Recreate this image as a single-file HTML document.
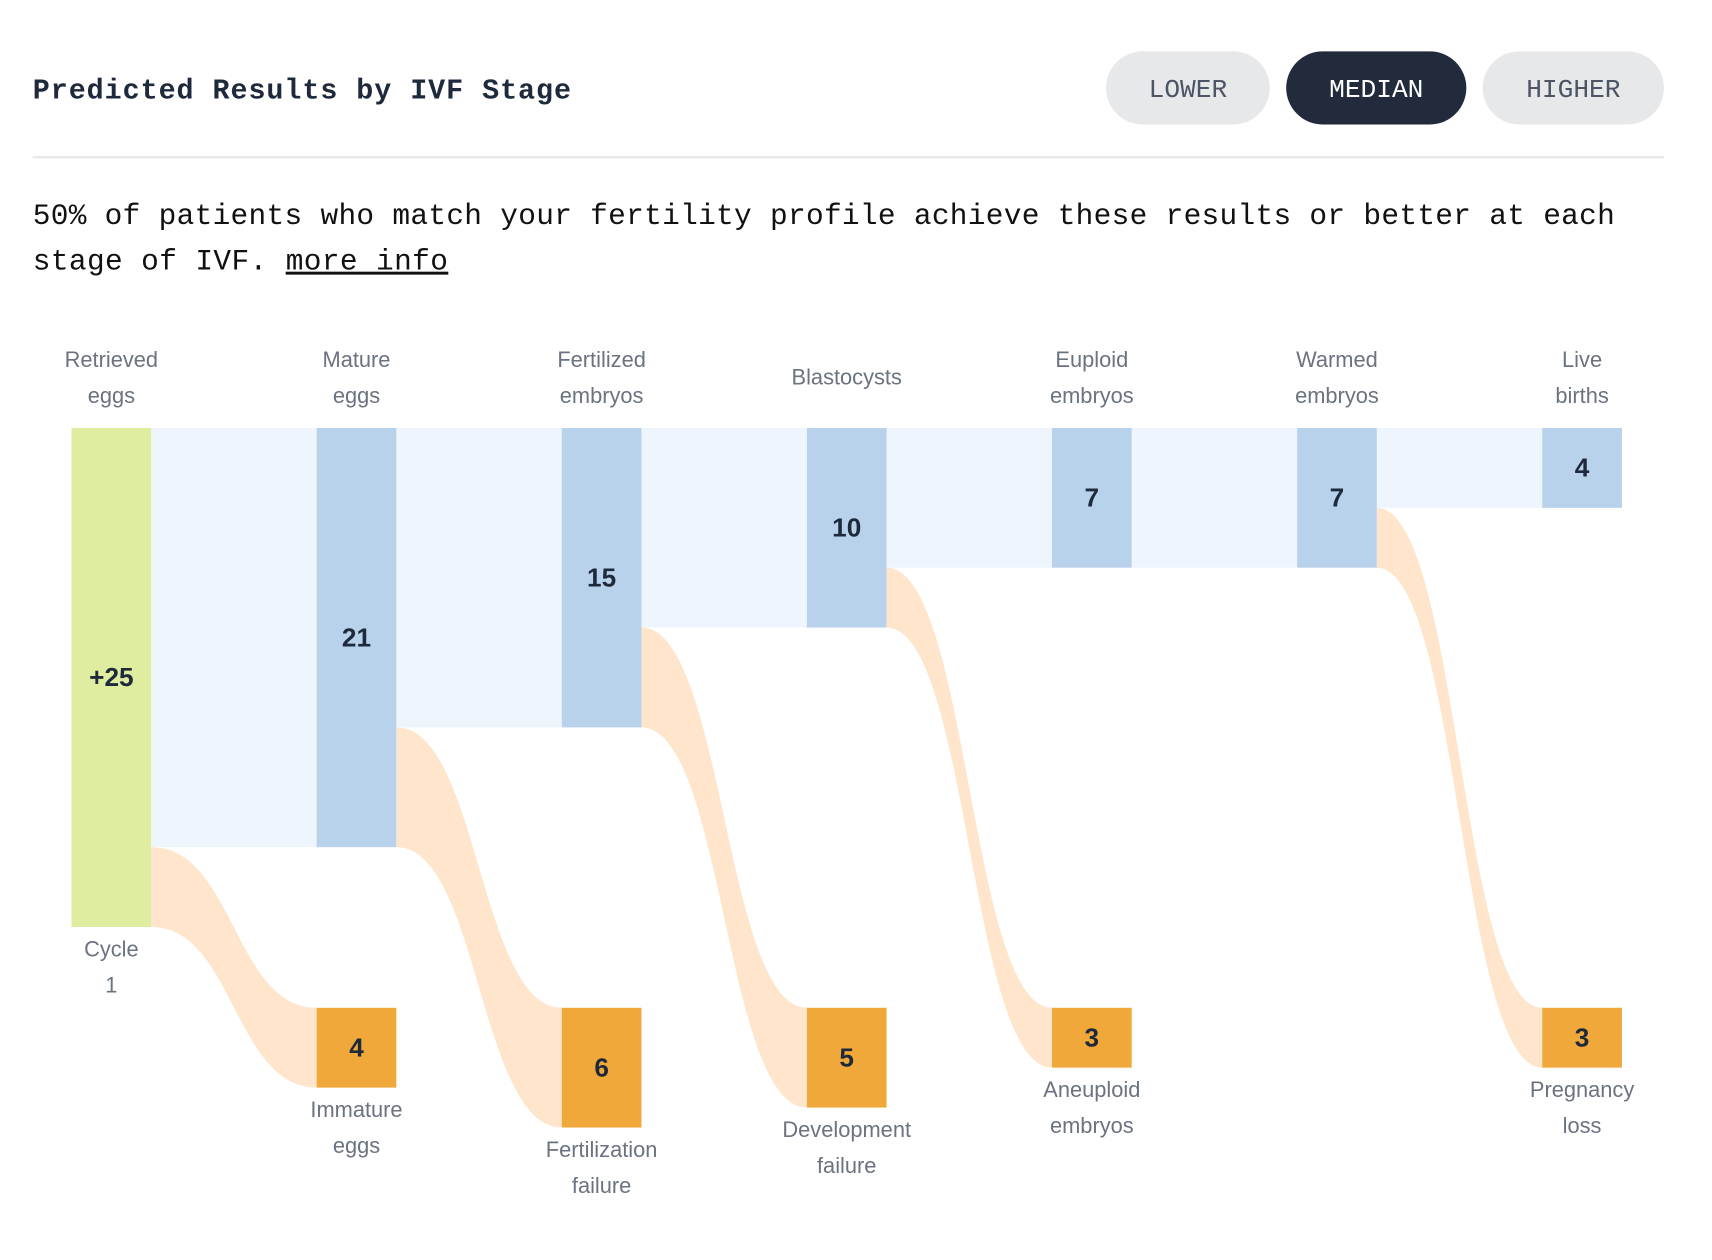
<!DOCTYPE html>
<html><head><meta charset="utf-8">
<style>
html,body{margin:0;padding:0;background:#fff;}
svg{display:block;}
.mono{font-family:"Liberation Mono",monospace;}
</style></head>
<body>
<svg id="chart" width="1712" height="1260" viewBox="0 0 1568 1154" xmlns="http://www.w3.org/2000/svg">
  <text x="30" y="90" class="mono" font-size="26" font-weight="bold" fill="#1e293b" textLength="493" lengthAdjust="spacing">Predicted Results by IVF Stage</text>
  <g>
    <rect x="1013" y="47" width="150" height="67" rx="33.5" fill="#e7e8ea"/>
    <text x="1088" y="89" text-anchor="middle" class="mono" font-size="24" fill="#4b5563">LOWER</text>
  </g>
  <g>
    <rect x="1178" y="47" width="165" height="67" rx="33.5" fill="#212b3b"/>
    <text x="1260.5" y="89" text-anchor="middle" class="mono" font-size="24" fill="#fff">MEDIAN</text>
  </g>
  <g>
    <rect x="1358" y="47" width="166" height="67" rx="33.5" fill="#e7e8ea"/>
    <text x="1441" y="89" text-anchor="middle" class="mono" font-size="24" fill="#4b5563">HIGHER</text>
  </g>
  <rect x="30" y="143" width="1494" height="2" fill="#e5e7eb"/>
  <text x="30" y="205" class="mono" font-size="27" fill="#111" textLength="1449" lengthAdjust="spacing">50% of patients who match your fertility profile achieve these results or better at each</text>
  <text x="30" y="247" class="mono" font-size="27" fill="#111" letter-spacing="0.35">stage of IVF. <tspan text-decoration="underline">more info</tspan></text>
  <g id="plot"></g>
</svg>
<script>
const stageLabels = [["Retrieved","eggs"],["Mature","eggs"],["Fertilized","embryos"],["Blastocysts"],["Euploid","embryos"],["Warmed","embryos"],["Live","births"]];
const stageValues = [25,21,15,10,7,7,4];
const valueText = ["+25","21","15","10","7","7","4"];
const lossValues = [4,6,5,3,0,3];
const lossLabels = [["Immature","eggs"],["Fertilization","failure"],["Development","failure"],["Aneuploid","embryos"],[],["Pregnancy","loss"]];

const NS="http://www.w3.org/2000/svg";
const plot=document.getElementById('plot');
const x0=102, dx=224.5, bw=73, topY=392, unit=18.28, lossTop=923;
const xc=i=>x0+i*dx;
const yh=v=>v*unit;
function mk(tag,attrs,parent){const e=document.createElementNS(NS,tag);for(const k in attrs)e.setAttribute(k,attrs[k]);(parent||plot).appendChild(e);return e;}
function txt(x,y,s,size,fill,weight){const t=mk('text',{x:x,y:y,'text-anchor':'middle','font-size':size,fill:fill,'font-family':'"Liberation Sans",sans-serif','font-weight':weight||'normal'});t.textContent=s;return t;}

for(let i=0;i<stageValues.length-1;i++){
  const xr=xc(i)+bw/2, xl=xc(i+1)-bw/2;
  const f=mk('rect',{x:xr,y:topY,width:xl-xr,height:yh(stageValues[i+1]),fill:'#eff5fd'});
  
  
  if(lossValues[i]>0){
    const y1=topY+yh(stageValues[i+1]), y2=topY+yh(stageValues[i]);
    const t1=lossTop, t2=lossTop+yh(lossValues[i]);
    const mx=(xr+xl)/2;
    const d=`M${xr},${y1} C${mx},${y1} ${mx},${t1} ${xl},${t1} L${xl},${t2} C${mx},${t2} ${mx},${y2} ${xr},${y2} Z`;
    const p=mk('path',{d:d,fill:'#fee5cc'});
    
    
  }
}
stageValues.forEach((v,i)=>{
  const r=mk('rect',{x:xc(i)-bw/2,y:topY,width:bw,height:yh(v),fill:i==0?'#deeda0':'#b8d2eb'});
  
  
  const t=txt(xc(i),topY+yh(v)/2+8,valueText[i],24,'#1e293b','bold');
  
  
  const L=stageLabels[i];
  L.forEach((s,j)=>{
    const y=L.length==1?352:336+j*33;
    const lt=txt(xc(i),y,s,20,'#6b7280');
    
    
  });
});
["Cycle","1"].forEach((s,j)=>{
  const t=txt(xc(0),876+j*33,s,20,'#6b7280');
  
  
});
lossValues.forEach((v,i)=>{
  if(v<=0)return;
  const cx=xc(i+1);
  const r=mk('rect',{x:cx-bw/2,y:lossTop,width:bw,height:yh(v),fill:'#f0a83a'});
  
  
  const t=txt(cx,lossTop+yh(v)/2+8,String(v),24,'#1e293b','bold');
  
  
  lossLabels[i].forEach((s,j)=>{
    const lt=txt(cx,lossTop+yh(v)+27+j*33,s,20,'#6b7280');
    
    
  });
});
</script>
</body></html>
